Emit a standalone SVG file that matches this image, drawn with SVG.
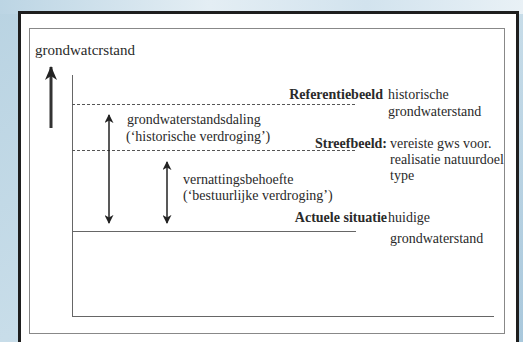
<svg xmlns="http://www.w3.org/2000/svg" width="523" height="342" viewBox="0 0 523 342">
<defs>
<linearGradient id="bg" x1="0" y1="0" x2="1" y2="1">
<stop offset="0" stop-color="#b9d3e2"/>
<stop offset="0.5" stop-color="#c8dde9"/>
<stop offset="1" stop-color="#a9c8dc"/>
</linearGradient>
<linearGradient id="topbg" x1="0" y1="0" x2="1" y2="0">
<stop offset="0" stop-color="#bcd5e4"/>
<stop offset="0.4" stop-color="#e4eef4"/>
<stop offset="0.7" stop-color="#d2e3ee"/>
<stop offset="1" stop-color="#e9f1f6"/>
</linearGradient>
<marker id="head" viewBox="0 0 10 10" refX="9" refY="5" markerWidth="9" markerHeight="9" markerUnits="userSpaceOnUse" orient="auto-start-reverse">
<path d="M0,0 L10,5 L0,10 L3,5 Z" fill="#222"/>
</marker>
<marker id="big" viewBox="0 0 14 12" refX="13" refY="6" markerWidth="14" markerHeight="12" markerUnits="userSpaceOnUse" orient="auto">
<path d="M0,0 L14,6 L0,12 L4,6 Z" fill="#222"/>
</marker>
</defs>
<style>
text{font-family:"Liberation Serif","DejaVu Serif","Times New Roman",serif;font-size:14px;fill:#2a2a2a}
.b{font-weight:bold}
.e{text-anchor:end}
.dash{stroke:#555;stroke-width:1;stroke-dasharray:3,2;fill:none}
.ln{stroke:#666;stroke-width:1;fill:none}
.arr{stroke:#222;stroke-width:1.5;fill:none}
</style>
<rect x="0" y="0" width="523" height="342" fill="url(#bg)"/>
<rect x="0" y="0" width="523" height="14" fill="url(#topbg)"/>
<rect x="19.5" y="12.5" width="498" height="340" fill="#ffffff" stroke="#1e1e1e" stroke-width="3"/>
<rect x="29.5" y="28.5" width="475" height="305" fill="none" stroke="#888" stroke-width="1"/>
<g id="axis" font-family="Liberation Serif, serif">
<text x="35" y="55" font-family="Liberation Serif, serif" style="font-size:15px">grondwatcrstand</text>
<line x1="51" y1="128" x2="51" y2="67" stroke="#333" stroke-width="3" marker-end="url(#big)"/>
<line class="ln" x1="72.5" y1="75" x2="72.5" y2="316"/>
<line class="ln" x1="72" y1="316.5" x2="494" y2="316.5"/>
</g>
<g id="connectors">
<line class="dash" x1="72" y1="104.5" x2="356" y2="104.5"/>
<line class="dash" x1="72" y1="150.5" x2="356" y2="150.5"/>
<line class="ln" x1="72" y1="231.5" x2="356" y2="231.5"/>
<line class="arr" x1="109" y1="115" x2="109" y2="223" marker-start="url(#head)" marker-end="url(#head)"/>
<line class="arr" x1="167" y1="162" x2="167" y2="223" marker-start="url(#head)" marker-end="url(#head)"/>
</g>
<g id="referentiebeeld" font-family="Liberation Serif, serif">
<text class="b e" x="383" y="99" font-family="Liberation Serif, serif">Referentiebeeld</text>
<text x="388" y="99" font-family="Liberation Serif, serif">historische</text>
<text x="388" y="116" font-family="Liberation Serif, serif">grondwaterstand</text>
</g>
<g id="daling">
<text x="127" y="124" font-family="Liberation Serif, serif">grondwaterstandsdaling</text>
<text x="126" y="141" font-family="Liberation Serif, serif">(‘historische verdroging’)</text>
</g>
<g id="streefbeeld">
<text class="b e" x="387" y="148" font-family="Liberation Serif, serif">Streefbeeld:</text>
<text x="390" y="148" font-family="Liberation Serif, serif">vereiste gws voor.</text>
<text x="390" y="164" font-family="Liberation Serif, serif">realisatie natuurdoel</text>
<text x="390" y="180" font-family="Liberation Serif, serif">type</text>
</g>
<g id="vernatting">
<text x="183" y="184" font-family="Liberation Serif, serif">vernattingsbehoefte</text>
<text x="183" y="200" font-family="Liberation Serif, serif">(‘bestuurlijke verdroging’)</text>
</g>
<g id="actueel">
<text class="b e" x="387" y="222" font-family="Liberation Serif, serif">Actuele situatie</text>
<text x="388" y="222" font-family="Liberation Serif, serif">huidige</text>
<text x="390" y="243" font-family="Liberation Serif, serif">grondwaterstand</text>
</g>
</svg>
